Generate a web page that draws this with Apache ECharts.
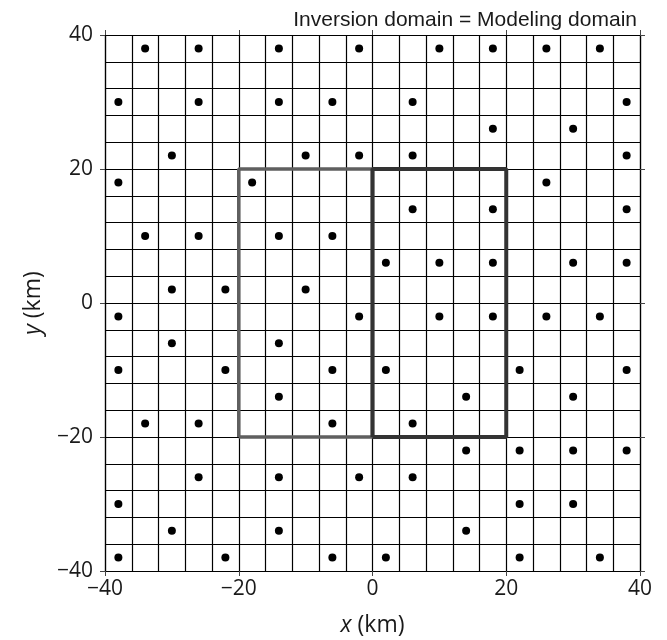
<!DOCTYPE html>
<html>
<head>
<meta charset="utf-8">
<script src="https://cdn.jsdelivr.net/npm/echarts@6/dist/echarts.min.js"></script>
<style>html,body{margin:0;padding:0;background:#fff}#c{width:667px;height:640px}</style>
</head>
<body>
<div id="c"></div>
<script>
// Station locations (km), grouped by row y
var stationRows = [
  [38, [-34, -26, -14, -2, 10, 18, 26, 34]],
  [30, [-38, -26, -14, -6, 6, 38]],
  [26, [18, 30]],
  [22, [-30, -10, -2, 6, 38]],
  [18, [-38, -18, 26]],
  [14, [6, 18, 38]],
  [10, [-34, -26, -14, -6]],
  [6, [2, 10, 18, 30, 38]],
  [2, [-30, -22, -10]],
  [-2, [-38, -2, 10, 18, 26, 34]],
  [-6, [-30, -14]],
  [-10, [-38, -22, -6, 2, 22, 38]],
  [-14, [-14, 14, 30]],
  [-18, [-34, -26, -6, 6]],
  [-22, [14, 22, 30, 38]],
  [-26, [-26, -14, -2, 6]],
  [-30, [-38, 22, 30]],
  [-34, [-30, -14, 14]],
  [-38, [-38, -22, -6, 2, 22, 34]]
];
var leftDomain = [[-20, -20], [0, -20], [0, 20], [-20, 20], [-20, -20]];
var rightDomain = [[0, -20], [20, -20], [20, 20], [0, 20], [0, -20]];
var axisMin = -40, axisMax = 40, majorStep = 20;
var titleText = 'Inversion domain = Modeling domain';

var stations = [];
stationRows.forEach(function (r) { r[1].forEach(function (x) { stations.push([x, r[0]]); }); });

var fam = '"Open Sans", "Noto Sans", sans-serif';
var txt = '#1a1a1a';
function fmt(v) { return String(v).replace('-', '\u2212'); }
function mkAxis(pos, show) {
  return {
    type: 'value', position: pos, min: axisMin, max: axisMax, interval: majorStep,
    axisLine: { show: true, onZero: false, lineStyle: { color: '#000', width: 1.2 } },
    axisTick: { show: true, inside: false, length: 5, lineStyle: { color: '#444', width: 1 } },
    minorTick: { show: false, splitNumber: 5 },
    splitLine: { show: show, lineStyle: { color: '#000', width: 1.2 } },
    minorSplitLine: { show: show, lineStyle: { color: '#000', width: 1.2 } },
    axisLabel: { show: false }
  };
}
var nameStyle = { fontSize: 23, color: txt, fontFamily: fam, rich: { i: { fontStyle: 'italic', fontSize: 23, fontFamily: fam, color: txt } } };
var xBottom = mkAxis('bottom', true);
xBottom.axisLabel = { show: true, formatter: fmt, fontSize: 21, color: txt, fontFamily: fam, margin: 8 };
xBottom.name = '{i|x} (km)';
xBottom.nameLocation = 'middle';
xBottom.nameGap = 43;
xBottom.nameTextStyle = nameStyle;
var yLeft = mkAxis('left', true);
yLeft.axisLabel = { show: true, formatter: fmt, fontSize: 21, color: txt, fontFamily: fam, margin: 12 };
yLeft.name = '{i|y} (km)';
yLeft.nameLocation = 'middle';
yLeft.nameGap = 60;
yLeft.nameTextStyle = nameStyle;
var xTop = mkAxis('top', false);
var yRight = mkAxis('right', false);

var chart = echarts.init(document.getElementById('c'), null, { renderer: 'canvas' });
chart.setOption({
  animation: false,
  backgroundColor: '#fff',
  title: { text: titleText, right: 25, top: 5, textStyle: { fontSize: 21, fontWeight: 'normal', color: txt, fontFamily: '"Liberation Sans", Arial, sans-serif' } },
  grid: { left: 105, right: 27, top: 35, bottom: 69, containLabel: false, outerBoundsMode: 'none' },
  xAxis: [xBottom, xTop],
  yAxis: [yLeft, yRight],
  series: [
    { type: 'line', data: leftDomain, xAxisIndex: 0, yAxisIndex: 0, showSymbol: false, symbol: 'none', lineStyle: { color: '#5f5f5f', width: 3.5 }, z: 3 },
    { type: 'line', data: rightDomain, xAxisIndex: 0, yAxisIndex: 0, showSymbol: false, symbol: 'none', lineStyle: { color: '#333333', width: 4 }, z: 4 },
    { type: 'scatter', data: stations, xAxisIndex: 0, yAxisIndex: 0, symbol: 'circle', symbolSize: 8, itemStyle: { color: '#000', opacity: 1 }, z: 5 }
  ]
});
</script>
</body>
</html>
